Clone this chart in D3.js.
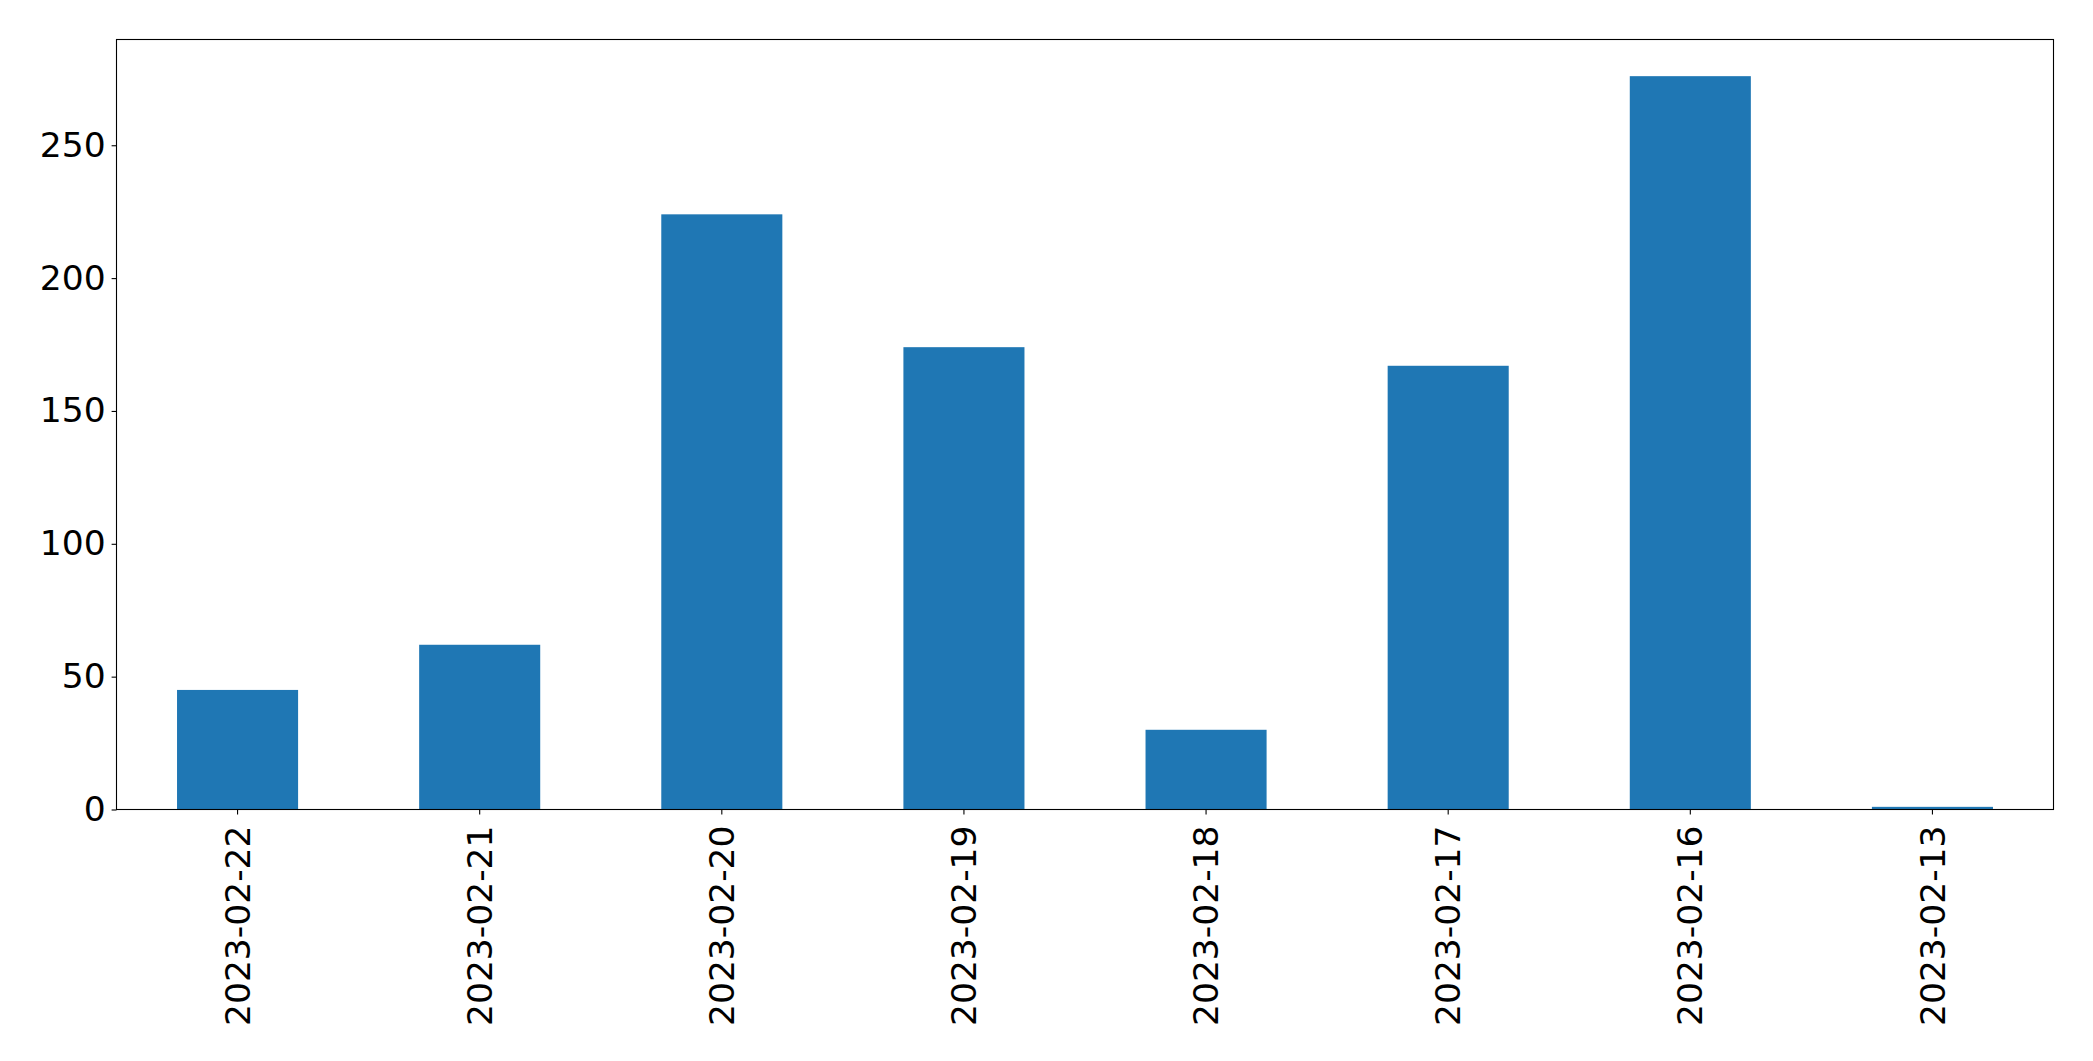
<!DOCTYPE html>
<html>
<head>
<meta charset="utf-8">
<script src="https://cdn.jsdelivr.net/npm/d3@7"></script>
<style>
  html, body { margin: 0; padding: 0; background: #fff; }
  svg { display: block; }
</style>
</head>
<body>
<script>
const categories = ["2023-02-22","2023-02-21","2023-02-20","2023-02-19","2023-02-18","2023-02-17","2023-02-16","2023-02-13"];
const values = [45, 62, 224, 174, 30, 167, 276, 1];
const yTicks = [0, 50, 100, 150, 200, 250];

const W = 2093, H = 1061;
const margin = {left: 116.5, right: 2093 - 2053.5, top: 39.5, bottom: 1061 - 809.5};
const iw = W - margin.left - margin.right;
const ih = H - margin.top - margin.bottom;

const svg = d3.select("body").append("svg").attr("width", W).attr("height", H);
const g = svg.append("g").attr("transform", `translate(${margin.left},${margin.top})`);

const x = d3.scaleBand().domain(categories).range([0, iw]).paddingInner(0.5).paddingOuter(0.25);
const y = d3.scaleLinear().domain([0, d3.max(values) * 1.05]).range([ih, 0]);

g.selectAll("rect.bar").data(values).enter().append("rect")
  .attr("class", "bar")
  .attr("x", (d, i) => x(categories[i]))
  .attr("width", x.bandwidth())
  .attr("y", d => y(d))
  .attr("height", d => ih - y(d))
  .attr("fill", "#1f77b4");

const font = "DejaVu Sans, sans-serif";
const fs = 34.5;

const yAxis = g.append("g").call(d3.axisLeft(y).tickValues(yTicks).tickSize(4.9).tickPadding(6).tickFormat(d3.format("d")));
yAxis.select(".domain").remove();
yAxis.selectAll("line").attr("stroke", "#000").attr("stroke-width", 1.1);
yAxis.selectAll("text").attr("font-family", font).attr("font-size", fs).attr("fill", "#000");

const xAxis = g.append("g").attr("transform", `translate(0,${ih})`).call(d3.axisBottom(x).tickSize(4.9).tickPadding(6));
xAxis.select(".domain").remove();
xAxis.selectAll("line").attr("stroke", "#000").attr("stroke-width", 1.1);
xAxis.selectAll("text")
  .attr("font-family", font).attr("font-size", fs).attr("fill", "#000")
  .attr("transform", "rotate(-90)")
  .attr("x", -16).attr("y", 0).attr("dy", "0.35em")
  .attr("text-anchor", "end");

g.append("rect").attr("x", 0).attr("y", 0).attr("width", iw).attr("height", ih)
  .attr("fill", "none").attr("stroke", "#000").attr("stroke-width", 1.1);
</script>
</body>
</html>
